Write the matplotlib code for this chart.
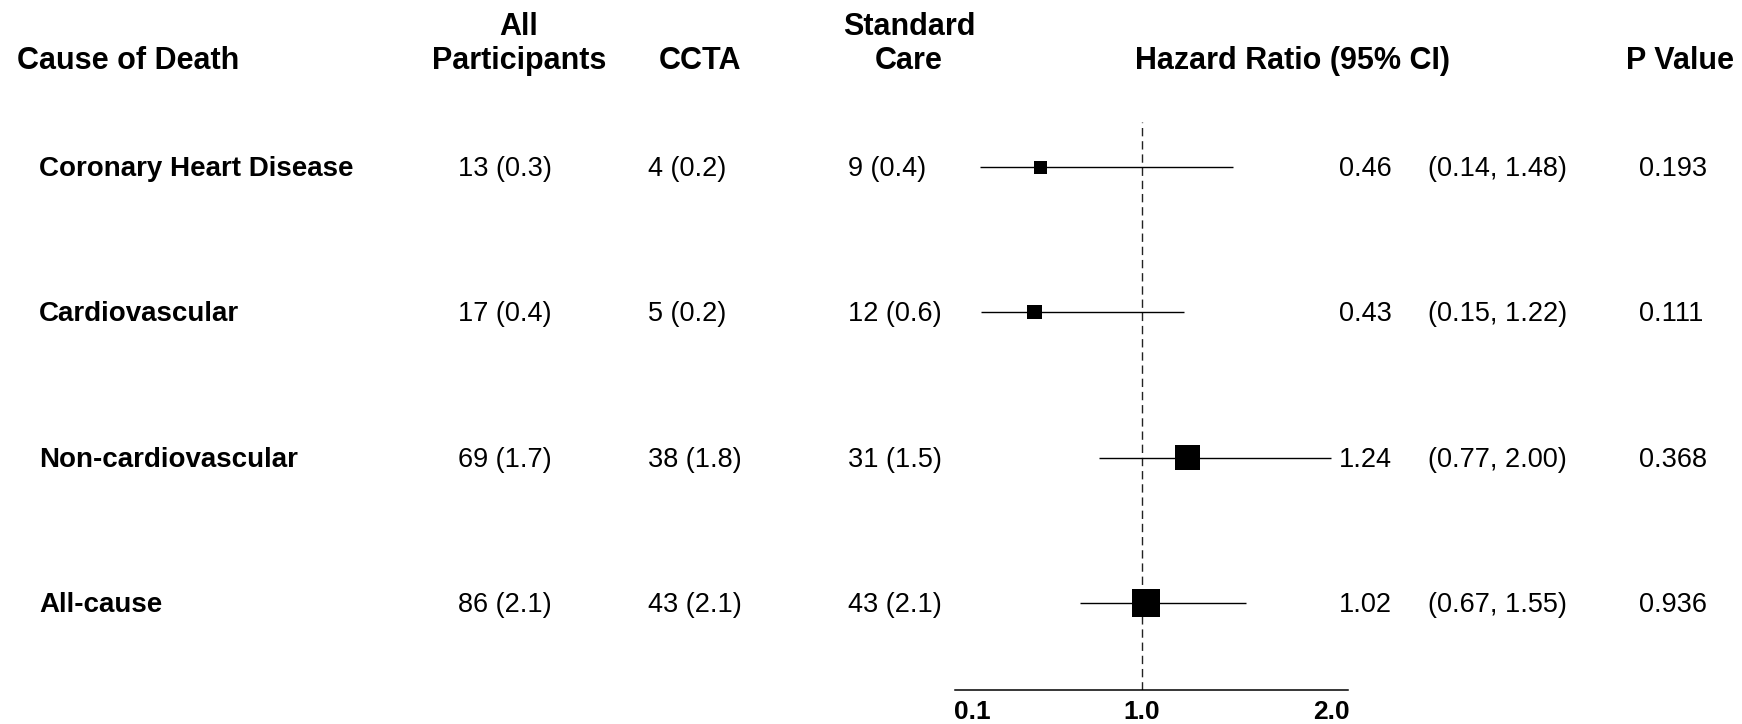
import matplotlib
matplotlib.use("Agg")
import matplotlib.pyplot as plt
import matplotlib.transforms as mtransforms
import numpy as np

plt.rcParams['font.family'] = ['Liberation Sans', 'DejaVu Sans']

# data
causes = ["Coronary Heart Disease", "Cardiovascular", "Non-cardiovascular", "All-cause"]
all_n = [13, 17, 69, 86]
all_pct = [0.3, 0.4, 1.7, 2.1]
ccta_n = [4, 5, 38, 43]
ccta_pct = [0.2, 0.2, 1.8, 2.1]
std_n = [9, 12, 31, 43]
std_pct = [0.4, 0.6, 1.5, 2.1]
hr = [0.46, 0.43, 1.24, 1.02]
ci_lo = [0.14, 0.15, 0.77, 0.67]
ci_hi = [1.48, 1.22, 2.00, 1.55]
p_vals = [0.193, 0.111, 0.368, 0.936]
x_ticks = [0.1, 1.0, 2.0]
x_ticklabels = ["0.1", "1.0", "2.0"]

W, H = 1742, 724
fig = plt.figure(figsize=(W / 100, H / 100), dpi=100)


def fx(px):
    return px / W


def fy(py):
    return 1 - py / H


# forest panel (pixel box 955..1348 x, 122..690 y)
ax = fig.add_axes([fx(955), fy(690), fx(1348) - fx(955), fy(122) - fy(690)])
rows = np.arange(len(causes))
ax.set_xlim(0.01, 2.09)
ax.set_ylim(3.6, -0.31)

ax.axvline(1.0, color='#222222', lw=1.0, ls=(0, (6, 3.5)), zorder=1)
ax.hlines(rows, ci_lo, ci_hi, color='black', lw=1.0, zorder=2)
# square side grows with the number of events
side_px = 3.4 + 2.65 * np.sqrt(all_n)
side_pt = side_px * 72 / 100
ax.scatter(hr, rows, s=side_pt ** 2, marker='s', color='black', linewidths=0, zorder=3)

for s in ['top', 'left', 'right']:
    ax.spines[s].set_visible(False)
ax.spines['bottom'].set_linewidth(1.1)
ax.set_yticks([])
ax.set_xticks(x_ticks)
ax.set_xticklabels(x_ticklabels, fontsize=19, fontweight='bold')
ax.tick_params(axis='x', length=0, pad=7)

# table columns, y follows the forest rows (nudged 2px down)
tr = mtransforms.blended_transform_factory(fig.transFigure, ax.transData)
tr = mtransforms.offset_copy(tr, fig=fig, y=-2, units='dots')
body = dict(fontsize=19.5, va='center', transform=tr, clip_on=False)
for i in rows:
    fig.text(fx(39), i, causes[i], fontweight='bold', fontsize=20, va='center', transform=tr)
    fig.text(fx(458), i, f"{all_n[i]} ({all_pct[i]:.1f})", ha='left', **body)
    fig.text(fx(648), i, f"{ccta_n[i]} ({ccta_pct[i]:.1f})", ha='left', **body)
    fig.text(fx(848), i, f"{std_n[i]} ({std_pct[i]:.1f})", ha='left', **body)
    fig.text(fx(1339), i, f"{hr[i]:.2f}", ha='left', **body)
    fig.text(fx(1428), i, f"({ci_lo[i]:.2f}, {ci_hi[i]:.2f})", ha='left', **body)
    fig.text(fx(1639), i, f"{p_vals[i]:.3f}", ha='left', **body)

# headers
hd = dict(fontsize=22, fontweight='bold', va='center')
fig.text(fx(17), fy(61), "Cause of Death", ha='left', **hd)
fig.text(fx(519), fy(27), "All", ha='center', **hd)
fig.text(fx(519), fy(61), "Participants", ha='center', **hd)
fig.text(fx(700), fy(61), "CCTA", ha='center', **hd)
fig.text(fx(909), fy(27), "Standard", ha='center', **hd)
fig.text(fx(909), fy(61), "Care", ha='center', **hd)
fig.text(fx(1292), fy(61), "Hazard Ratio (95% CI)", ha='center', **hd)
fig.text(fx(1680), fy(61), "P Value", ha='center', **hd)

fig.savefig("out.png", dpi=100, facecolor='white')
